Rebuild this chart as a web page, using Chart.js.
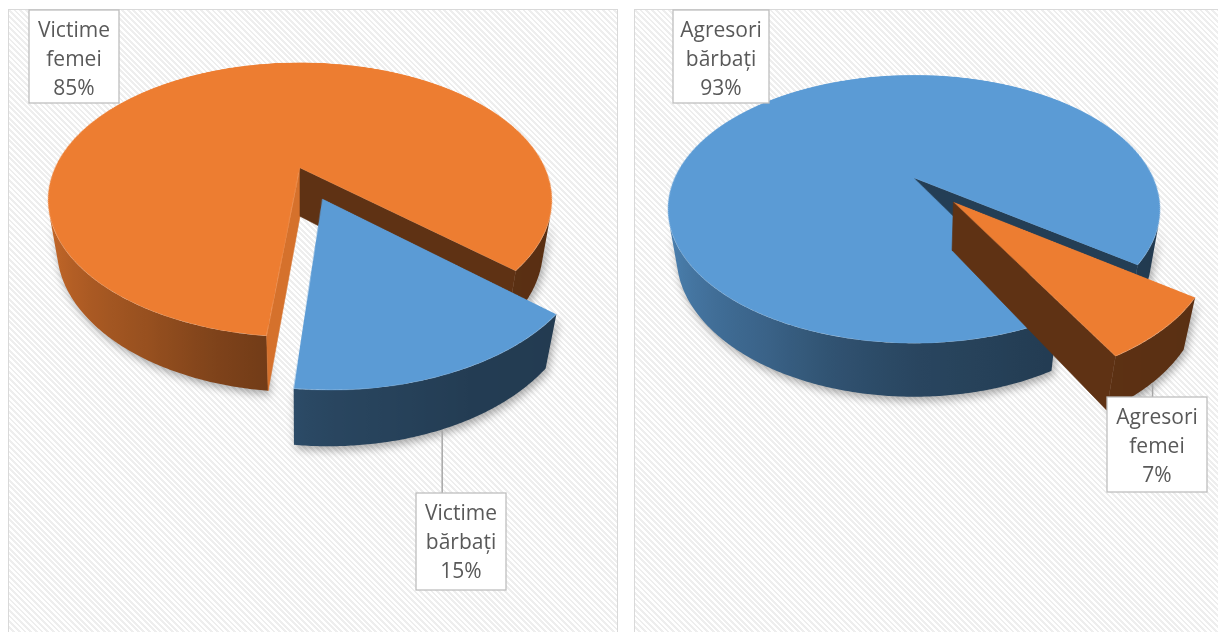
<!DOCTYPE html>
<html><head><meta charset="utf-8">
<script src="https://cdn.jsdelivr.net/npm/chart.js@4.4.1/dist/chart.umd.min.js"></script>
<style>
html,body{margin:0;padding:0;background:#fff;}
body{width:1218px;height:632px;overflow:hidden;position:relative;font-family:"Open Sans";}
.panel{position:absolute;top:9px;height:640px;box-sizing:border-box;border:1px solid #D9D9D9;
background:repeating-linear-gradient(45deg,#ffffff 0px,#ffffff 2px,#eeeeee 2px,#eeeeee 4px);}
canvas{position:absolute;top:0;}
</style></head><body>
<div class="panel" style="left:8px;width:610px"></div>
<div class="panel" style="left:634px;width:600px"></div>
<canvas id="c1" width="627" height="632" style="left:0"></canvas>
<canvas id="c2" width="591" height="632" style="left:627px"></canvas>
<script>
// ---- data ----
const victimCategories = ['Victime femei', 'Victime bărbați'];
const victimValues = [85, 15];
const aggressorCategories = ['Agresori bărbați', 'Agresori femei'];
const aggressorValues = [93, 7];

const ORANGE = '#ED7D31', BLUE = '#5B9BD5';

function hexRgb(h){return [parseInt(h.slice(1,3),16),parseInt(h.slice(3,5),16),parseInt(h.slice(5,7),16)];}
function shade(hex,f){const c=hexRgb(hex).map(v=>Math.max(0,Math.min(255,Math.round(v*f))));return 'rgb('+c.join(',')+')';}
const shadeStops=[[-180,0.37],[0,0.37],[40,0.38],[65,0.39],[90,0.45],[105,0.53],[120,0.64],[150,0.79],[170,0.86],[180,0.87]];
function shadeAt(deg){
  deg=((deg%360)+360)%360; if(deg>180)deg-=360;
  for(let i=1;i<shadeStops.length;i++){
    const a=shadeStops[i-1],b=shadeStops[i];
    if(deg<=b[0]){const t=(deg-a[0])/(b[0]-a[0]||1);return a[1]+(b[1]-a[1])*t;}
  }
  return 0.87;
}

function makePie3d(cfg){
  const rad=Math.PI/180;
  const sinT=Math.sin(cfg.tilt*rad), cosT=Math.cos(cfg.tilt*rad);
  const D=cfg.distance, F=cfg.focal, CX=cfg.cx-cfg.canvasLeft, CY=cfg.cy, H=cfg.depth;
  function proj(X,Y,Z){const d=D-Y*cosT-Z*sinT;return [CX+F*X/d, CY+F*(Y*sinT-Z*cosT)/d];}
  function invRow(y){const t=(y-CY)/F;return t*D/(sinT+t*cosT);}
  let items=[];

  function drawRim(ctx,it){
    const s=it.s,e=it.e,ex=it.ex,ey=it.ey;
    const camY=D*cosT;
    const n=Math.max(2,Math.ceil((e-s)/(0.5*rad)));
    const runs=[];let run=[];
    for(let k=0;k<=n;k++){
      const th=s+(e-s)*k/n;
      const vis=-ex*Math.cos(th)+(camY-ey)*Math.sin(th)>1;
      if(vis)run.push(th);else if(run.length){runs.push(run);run=[];}
    }
    if(run.length)runs.push(run);
    for(const r of runs){
      if(r.length<2)continue;
      const top=r.map(th=>proj(ex+Math.cos(th),ey+Math.sin(th),0));
      const bot=r.map(th=>proj(ex+Math.cos(th),ey+Math.sin(th),-H));
      let xmin=Infinity,xmax=-Infinity;
      top.concat(bot).forEach(p=>{xmin=Math.min(xmin,p[0]);xmax=Math.max(xmax,p[0]);});
      const g=ctx.createLinearGradient(xmin,0,xmax,0);
      const stepK=Math.max(1,Math.floor(r.length/40));
      for(let k=0;k<r.length;k+=stepK){
        const o=Math.max(0,Math.min(1,(top[k][0]-xmin)/((xmax-xmin)||1)));
        g.addColorStop(o,shade(it.color,shadeAt(r[k]/rad)));
      }
      const kl=r.length-1;
      g.addColorStop(Math.max(0,Math.min(1,(top[kl][0]-xmin)/((xmax-xmin)||1))),shade(it.color,shadeAt(r[kl]/rad)));
      ctx.beginPath();
      top.forEach((p,k)=>k?ctx.lineTo(p[0],p[1]):ctx.moveTo(p[0],p[1]));
      for(let k=bot.length-1;k>=0;k--)ctx.lineTo(bot[k][0],bot[k][1]);
      ctx.closePath();
      ctx.save();
      ctx.shadowColor='rgba(0,0,0,0.33)';ctx.shadowBlur=9;ctx.shadowOffsetX=2;ctx.shadowOffsetY=4;
      ctx.fillStyle=g;ctx.fill();
      ctx.restore();
    }
  }
  function drawFace(ctx,it,ang,isStart){
    const nx=isStart?Math.sin(ang):-Math.sin(ang);
    const ny=isStart?-Math.cos(ang):Math.cos(ang);
    if(nx*(0-it.ex)+ny*(D*cosT-it.ey)<=0)return;
    const ux=it.ex+Math.cos(ang),uy=it.ey+Math.sin(ang);
    const pts=[proj(it.ex,it.ey,0),proj(ux,uy,0),proj(ux,uy,-H),proj(it.ex,it.ey,-H)];
    ctx.beginPath();pts.forEach((p,k)=>k?ctx.lineTo(p[0],p[1]):ctx.moveTo(p[0],p[1]));ctx.closePath();
    const col=shade(it.color,isStart?0.9:0.4);
    ctx.fillStyle=col;ctx.fill();
    ctx.strokeStyle=col;ctx.lineWidth=0.6;ctx.stroke();
  }
  function drawTop(ctx,it,off,octx,S,R){
    const el=it.el;
    octx.clearRect(0,0,S,S);
    octx.save();
    octx.translate(S/2-el.x+it.ex*R,S/2-el.y+it.ey*R);
    el.draw(octx);
    octx.restore();
    const y0=Math.floor(proj(0,it.ey-1.03,0)[1]);
    const y1=Math.ceil(proj(0,it.ey+1.03,0)[1]);
    for(let j=y0;j<y1;j++){
      const Ya=invRow(j),Yb=invRow(j+1);
      const sy=S/2+Ya*R,sh=(Yb-Ya)*R;
      if(sy<0||sy+sh>S)continue;
      const Ym=(Ya+Yb)/2;
      const sc=F/((D-Ym*cosT)*R);
      ctx.drawImage(off,0,sy,S,sh,CX-(S/2)*sc,j,S*sc,1);
    }
  }
  return {
    id:'pie3d',
    beforeDatasetsDraw(chart){
      const ctx=chart.ctx;
      const meta=chart.getDatasetMeta(0);
      const arcs=meta.data;
      const R=arcs[0].outerRadius;
      const S=Math.ceil(2*1.4*R);
      const off=document.createElement('canvas');off.width=S;off.height=S;
      const octx=off.getContext('2d');
      items=arcs.map((el,i)=>{
        const mid=(el.startAngle+el.endAngle)/2;
        const ex=(cfg.explode[i]||0)*Math.cos(mid),ey=(cfg.explode[i]||0)*Math.sin(mid);
        return {el,i,mid,ex,ey,s:el.startAngle,e:el.endAngle,color:chart.data.datasets[0].backgroundColor[i]};
      });
      const order=items.slice().sort((a,b)=>a.ey-b.ey);
      ctx.save();
      ctx.imageSmoothingEnabled=true;ctx.imageSmoothingQuality='high';
      for(const it of order){
        drawRim(ctx,it);
        drawFace(ctx,it,it.s,true);
        drawFace(ctx,it,it.e,false);
        drawTop(ctx,it,off,octx,S,R);
      }
      ctx.restore();
      return false;
    },
    afterDraw(chart){
      const ctx=chart.ctx;
      const ds=chart.data.datasets[0];
      const total=ds.data.reduce((a,b)=>a+b,0);
      ctx.save();
      cfg.labels.forEach((lb,i)=>{
        const it=items[i];
        const bx=lb.x-cfg.canvasLeft,by=lb.y;
        if(lb.leader&&it){
          const a=proj(it.ex+Math.cos(it.mid),it.ey+Math.sin(it.mid),-H);
          ctx.beginPath();ctx.moveTo(a[0],a[1]+1);ctx.lineTo(a[0],by);
          ctx.strokeStyle='#A6A6A6';ctx.lineWidth=1.5;ctx.stroke();
        }
        ctx.fillStyle='#FFFFFF';ctx.fillRect(bx,by,lb.w,lb.h);
        ctx.strokeStyle='#BFBFBF';ctx.lineWidth=1.3;ctx.strokeRect(bx,by,lb.w,lb.h);
        const lines=chart.data.labels[i].split(' ');
        lines.push(Math.round(ds.data[i]/total*100)+'%');
        ctx.fillStyle='#595959';ctx.font='21px "Open Sans"';ctx.textAlign='center';ctx.textBaseline='middle';
        lines.forEach((t,k)=>ctx.fillText(t,bx+lb.w/2,by+21+k*29));
      });
      ctx.restore();
    }
  };
}

function makeChart(id,categories,values,colors,rotation,cfg){
  return new Chart(document.getElementById(id),{
    type:'pie',
    data:{labels:categories,datasets:[{data:values,backgroundColor:colors,borderWidth:0}]},
    options:{
      responsive:false,devicePixelRatio:1,animation:false,events:[],
      rotation:rotation,
      layout:{padding:0},
      plugins:{legend:{display:false},tooltip:{enabled:false}}
    },
    plugins:[makePie3d(cfg)]
  });
}

makeChart('c1',victimCategories,victimValues,[ORANGE,BLUE],-174,{
  cx:300,cy:168,focal:896,tilt:32,distance:3.655,depth:0.24,canvasLeft:0,
  explode:[0,0.24],
  labels:[{x:29,y:10,w:90,h:93,leader:false},{x:416,y:493,w:90,h:97,leader:true}]
});
makeChart('c2',aggressorCategories,aggressorValues,[BLUE,ORANGE],-208.5,{
  cx:914,cy:178,focal:875,tilt:32,distance:3.655,depth:0.24,canvasLeft:627,
  explode:[0,0.24],
  labels:[{x:673,y:10,w:96,h:93,leader:false},{x:1107,y:397,w:100,h:95,leader:true}]
});
</script>
</body></html>
